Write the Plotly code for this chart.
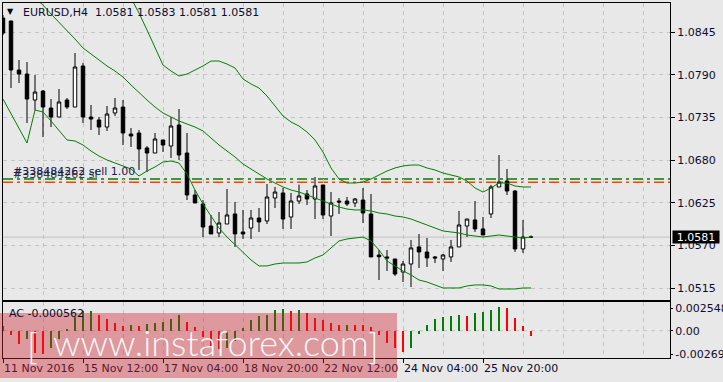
import plotly.graph_objects as go

# ---------------- data ----------------
OPEN = [1.08634, 1.08596, 1.07964, 1.07912, 1.07577, 1.07693, 1.07474, 1.07358, 1.07577, 1.07487,
        1.08016, 1.07358, 1.07320, 1.07229, 1.07410, 1.07487, 1.07139, 1.07152, 1.06959, 1.06894,
        1.07062, 1.06984, 1.07255, 1.06894, 1.06353, 1.06237, 1.05953, 1.05863, 1.05979, 1.06108,
        1.05876, 1.05927, 1.06056, 1.06018, 1.06314, 1.06379, 1.06069, 1.06275, 1.06366, 1.06301,
        1.06482, 1.06082, 1.06275, 1.06275, 1.06250, 1.06288, 1.06108, 1.05579, 1.05554, 1.05528,
        1.05360, 1.05463, 1.05683, 1.05618, 1.05554, 1.05528, 1.05554, 1.05683, 1.05953, 1.06031,
        1.05915, 1.06108, 1.06456, 1.06533, 1.06404, 1.05657, 1.0581]
HIGH = [1.08673, 1.08600, 1.08093, 1.08067, 1.07900, 1.07706, 1.07590, 1.07719, 1.07603, 1.08183,
        1.08054, 1.07513, 1.07358, 1.07500, 1.07603, 1.07577, 1.07216, 1.07191, 1.06984, 1.07152,
        1.07062, 1.07358, 1.07461, 1.07152, 1.06417, 1.06288, 1.06095, 1.06134, 1.06430, 1.06263,
        1.06160, 1.06160, 1.06185, 1.06495, 1.06456, 1.06443, 1.06379, 1.06487, 1.06417, 1.06585,
        1.06482, 1.06391, 1.06314, 1.06327, 1.06314, 1.06443, 1.06366, 1.05644, 1.05644, 1.05528,
        1.05502, 1.05773, 1.05850, 1.05798, 1.05566, 1.05592, 1.05773, 1.06147, 1.06043, 1.06275,
        1.06069, 1.06482, 1.06868, 1.06688, 1.06417, 1.06031, 1.0583]
LOW = [1.08415, 1.07732, 1.07796, 1.07281, 1.07448, 1.07100, 1.07229, 1.07358, 1.07461, 1.07487,
       1.07281, 1.07191, 1.07126, 1.07178, 1.07371, 1.06997, 1.06972, 1.06675, 1.06649, 1.06894,
       1.06907, 1.06830, 1.06804, 1.06288, 1.06250, 1.05811, 1.05850, 1.05811, 1.05979, 1.05683,
       1.05786, 1.05786, 1.05876, 1.05979, 1.06185, 1.05915, 1.05915, 1.06237, 1.06224, 1.06043,
       1.06043, 1.05824, 1.06108, 1.06211, 1.06198, 1.05992, 1.05554, 1.05257, 1.05373, 1.05309,
       1.05231, 1.05167, 1.05412, 1.05425, 1.05476, 1.05373, 1.05489, 1.05683, 1.05811, 1.05876,
       1.05837, 1.06056, 1.06456, 1.06353, 1.05618, 1.05605, 1.0581]
CLOSE = [1.08441, 1.07964, 1.07912, 1.07590, 1.07680, 1.07487, 1.07358, 1.07552, 1.07487, 1.08003,
         1.07358, 1.07332, 1.07229, 1.07397, 1.07474, 1.07152, 1.07113, 1.06946, 1.06894, 1.07075,
         1.06997, 1.07242, 1.06868, 1.06353, 1.06250, 1.05940, 1.05850, 1.05992, 1.06095, 1.05850,
         1.05850, 1.06056, 1.06005, 1.06327, 1.06391, 1.06043, 1.06275, 1.06340, 1.06301, 1.06469,
         1.06095, 1.06250, 1.06263, 1.06237, 1.06301, 1.06121, 1.05554, 1.05557, 1.05541, 1.05334,
         1.05463, 1.05670, 1.05618, 1.05541, 1.05541, 1.05579, 1.05683, 1.05966, 1.06043, 1.05915,
         1.05837, 1.06456, 1.06520, 1.06404, 1.05657, 1.05811, 1.0581]

BB_UPPER_START = 16
BB_UPPER = [1.08892, 1.08699, 1.08480, 1.08248, 1.08028, 1.07951, 1.07887, 1.07912, 1.07964, 1.08016,
            1.08080, 1.08080, 1.08041, 1.07990, 1.07848, 1.07784, 1.07732, 1.07629, 1.07500, 1.07371,
            1.07294, 1.07242, 1.07165, 1.07062, 1.06907, 1.06701, 1.06559, 1.06507, 1.06507, 1.06520,
            1.06559, 1.06611, 1.06662, 1.06701, 1.06727, 1.06739, 1.06739, 1.06701, 1.06675, 1.06636,
            1.06611, 1.06585, 1.06533, 1.06443, 1.06391, 1.06443, 1.06507, 1.06507, 1.06469, 1.06456,
            1.06456]
BB_MID_START = 4
BB_MID = [1.08892, 1.08802, 1.08686, 1.08583, 1.08467, 1.08364, 1.08248, 1.08170, 1.08093, 1.08016,
          1.07951, 1.07874, 1.07771, 1.07668, 1.07577, 1.07487, 1.07410, 1.07358, 1.07307, 1.07268,
          1.07229, 1.07178, 1.07088, 1.06997, 1.06920, 1.06843, 1.06752, 1.06688, 1.06623, 1.06559,
          1.06507, 1.06456, 1.06417, 1.06391, 1.06353, 1.06314, 1.06275, 1.06237, 1.06198, 1.06172,
          1.06160, 1.06160, 1.06147, 1.06121, 1.06108, 1.06082, 1.06069, 1.06043, 1.06005, 1.05966,
          1.05927, 1.05889, 1.05876, 1.05863, 1.05837, 1.05824, 1.05811, 1.05824, 1.05837, 1.05824,
          1.05811, 1.05798, 1.05811]
BB_LOWER = [1.07590, 1.07397, 1.07216, 1.07023, 1.07448, 1.07423, 1.07307, 1.07178, 1.07062, 1.07049,
            1.06997, 1.06920, 1.06855, 1.06804, 1.06765, 1.06727, 1.06688, 1.06598, 1.06662, 1.06714,
            1.06778, 1.06791, 1.06765, 1.06623, 1.06417, 1.06237, 1.06082, 1.05927, 1.05811, 1.05708,
            1.05605, 1.05515, 1.05438, 1.05438, 1.05463, 1.05476, 1.05476, 1.05476, 1.05489, 1.05541,
            1.05579, 1.05670, 1.05760, 1.05786, 1.05798, 1.05811, 1.05760, 1.05644, 1.05502, 1.05438,
            1.05373, 1.05322, 1.05257, 1.05231, 1.05193, 1.05154, 1.05154, 1.05154, 1.05180, 1.05193,
            1.05193, 1.05180, 1.05141, 1.05141, 1.05141, 1.05154, 1.05154]

AC = [0.000575, -0.000495, -0.00153, -0.00096, -0.00261, -0.00263, -0.00199, -0.00096, 0.00020, 0.00153,
      0.00222, 0.00225, 0.00184, 0.00134, 0.00084, 0.00058, 0.00060, 0.00057, 0.00077, 0.00084,
      0.00096, 0.00134, 0.00184, 0.00104, 0.00046, -0.00077, -0.00192, -0.00210, -0.00195, -0.00115,
      0.00031, 0.00123, 0.00173, 0.00184, 0.00242, 0.00244, 0.00230, 0.00242, 0.00199, 0.00146,
      0.00123, 0.00088, 0.00060, 0.00065, 0.00064, 0.00063, 0.00046, -0.00050, -0.00138, -0.00196,
      -0.00242, -0.00196, -0.00038, 0.00066, 0.00130, 0.00161, 0.00169, 0.00180, 0.00169, 0.00199,
      0.00215, 0.00238, 0.00276, 0.00264, 0.00141, 0.00054, -0.000562]

DATE_TICK_IDX = [0, 10, 20, 30, 40, 50, 60]
DATE_TICK_TEXT = ["11 Nov 2016", "15 Nov 12:00", "17 Nov 04:00", "18 Nov 20:00",
                  "22 Nov 12:00", "24 Nov 04:00", "25 Nov 20:00"]
PRICE_TICKS = [1.0515, 1.0570, 1.0625, 1.0680, 1.0735, 1.0790, 1.0845]
AC_TICKS = [0.002548, 0.0, -0.00269]
AC_TICK_TEXT = ["0.002548", "0.00", "-0.00269"]

SYMBOL = "EURUSD,H4"
BAR_OHLC_TEXT = "1.0581 1.0583 1.0581 1.0581"
BID = 1.0581
ORDER_LEVEL_GREEN = 1.06559
ORDER_LEVEL_RED = 1.06517
ORDER_LABEL = "#338484262 sell 1.00"
ORDER_LABEL2 = "#338484262 sl"
AC_LABEL = "AC -0.000562"
WATERMARK = "www.instaforex.com"

PRICE_RANGE = [1.04999, 1.08828]
AC_RANGE = [-0.00314, 0.00330]
X_RANGE = [0, 83.375]

# ---------------- layout geometry (pixels) ----------------
W, H = 723, 382
PX_L, PX_R, PX_T, PX_B = 3, 670, 3, 358


def px_x(px):
    return (px - PX_L) / (PX_R - PX_L)


def px_y(py):
    return (PX_B - py) / (PX_B - PX_T)


BG = "#e8e8e8"
GRID = "#c4c4c4"
TXT = "#0c0c30"
FONT = "DejaVu Sans"
GREEN = "#008000"

n = len(CLOSE)
xs = list(range(n))

fig = go.Figure()

# Bollinger bands
for start, vals in ((BB_UPPER_START, BB_UPPER), (BB_MID_START, BB_MID), (0, BB_LOWER)):
    fig.add_trace(go.Scatter(x=list(range(start, start + len(vals))), y=vals, mode="lines",
                             line=dict(color=GREEN, width=1), xaxis="x", yaxis="y",
                             hoverinfo="skip"))

# candles
fig.add_trace(go.Candlestick(
    x=xs, open=OPEN, high=HIGH, low=LOW, close=CLOSE, xaxis="x", yaxis="y",
    increasing=dict(line=dict(color="black", width=1), fillcolor="white"),
    decreasing=dict(line=dict(color="black", width=1), fillcolor="black"),
    whiskerwidth=0,
))

# AC histogram
ac_colors = []
for i, v in enumerate(AC):
    if i == 0:
        ac_colors.append("#ff0000")
    else:
        ac_colors.append("#008000" if v > AC[i - 1] else "#ff0000")
fig.add_trace(go.Bar(x=xs, y=AC, width=0.125, offset=-0.0625,
                     marker=dict(color=ac_colors, line=dict(width=0)),
                     xaxis="x2", yaxis="y2", hoverinfo="skip"))

grid_common = dict(showgrid=True, gridcolor=GRID, griddash="4px,4px", gridwidth=1)

fig.update_layout(
    width=W, height=H,
    margin=dict(l=PX_L, r=W - PX_R, t=PX_T, b=H - PX_B, autoexpand=False),
    paper_bgcolor=BG, plot_bgcolor=BG,
    showlegend=False,
    boxgap=0.38,
    bargap=0,
    font=dict(family=FONT, size=11, color=TXT),
    xaxis=dict(domain=[0, 1], anchor="y", range=X_RANGE, tickmode="array",
               tickvals=DATE_TICK_IDX, ticktext=[""] * len(DATE_TICK_IDX), ticks="",
               showline=True, linecolor="black", linewidth=1, mirror=True, automargin=False,
               rangeslider=dict(visible=False), zeroline=False,
               minor=dict(dtick=5, tick0=0, showgrid=True, gridcolor=GRID, griddash="4px,4px"),
               **grid_common),
    yaxis=dict(domain=[px_y(300), 1], anchor="x", side="right", range=PRICE_RANGE,
               tickmode="array", tickvals=PRICE_TICKS, ticktext=[f"{v:.4f}" for v in PRICE_TICKS],
               ticks="outside", ticklen=4, tickcolor="black", automargin=False,
               showline=True, linecolor="black", linewidth=1, mirror=True, zeroline=False,
               tickfont=dict(family=FONT, size=11, color=TXT),
               **grid_common),
    xaxis2=dict(domain=[0, 1], anchor="y2", matches="x", range=X_RANGE, tickmode="array",
                tickvals=DATE_TICK_IDX, ticktext=DATE_TICK_TEXT, ticks="outside", ticklen=4,
                tickcolor="black", ticklabelposition="outside right", tickangle=0,
                automargin=False,
                showline=True, linecolor="black", linewidth=1, mirror=True, zeroline=False,
                tickfont=dict(family=FONT, size=11, color=TXT),
                minor=dict(dtick=5, tick0=0, showgrid=True, gridcolor=GRID, griddash="4px,4px"),
                **grid_common),
    yaxis2=dict(domain=[0, px_y(302)], anchor="x2", side="right", range=AC_RANGE,
                tickmode="array", tickvals=AC_TICKS, ticktext=AC_TICK_TEXT, automargin=False,
                ticks="outside", ticklen=2, tickcolor="black", showgrid=False, zeroline=False,
                showline=True, linecolor="black", linewidth=1, mirror=True, ticklabelstandoff=0,
                tickfont=dict(family=FONT, size=11, color=TXT)),
)

shapes = [
    # zero line of AC
    dict(type="line", xref="x2 domain", yref="y2", x0=0, x1=1, y0=0, y1=0,
         line=dict(color=GRID, width=1, dash="4px,4px"), layer="below"),
    # bid line
    dict(type="line", xref="x domain", yref="y", x0=0, x1=1, y0=BID, y1=BID,
         line=dict(color="#c0c0c0", width=1), layer="below"),
    # order lines
    dict(type="line", xref="x domain", yref="y", x0=0, x1=1, y0=ORDER_LEVEL_GREEN, y1=ORDER_LEVEL_GREEN,
         line=dict(color=GREEN, width=1.3, dash="10px,4px,3px,4px"), layer="below"),
    dict(type="line", xref="x domain", yref="y", x0=0, x1=1, y0=ORDER_LEVEL_RED, y1=ORDER_LEVEL_RED,
         line=dict(color="#ff4000", width=1.3, dash="10px,4px,3px,4px"), layer="below"),
    # watermark band
    dict(type="rect", xref="paper", yref="paper", x0=px_x(0), x1=px_x(397), y0=px_y(378), y1=px_y(313),
         fillcolor="rgba(205,35,45,0.40)", line=dict(width=0), layer="above"),
]
fig.update_layout(shapes=shapes)

WM_FONT = dict(family="Lato", size=36, weight=300, color="rgba(255,255,255,0.95)")
ann = [
    dict(text="▼", x=px_x(5), y=px_y(12), xanchor="left", yanchor="middle",
         font=dict(size=8, color="black")),
    dict(text=SYMBOL + "\u00a0\u00a0" + BAR_OHLC_TEXT, x=px_x(21), y=px_y(13),
         xanchor="left", yanchor="middle", font=dict(size=11, color=TXT)),
    dict(text=ORDER_LABEL2, x=px_x(11), y=px_y(174), xanchor="left", yanchor="middle",
         font=dict(size=11, color="#3a3a3a")),
    dict(text=ORDER_LABEL, x=px_x(11), y=px_y(171), xanchor="left", yanchor="middle",
         font=dict(size=11, color="#1a1a50")),
    dict(text=AC_LABEL, x=px_x(7), y=px_y(313), xanchor="left", yanchor="middle",
         font=dict(size=11, color=TXT)),
    dict(text=f"{BID:.4f}", x=px_x(672), y=BID, yref="y", xanchor="left", yanchor="middle",
         font=dict(size=11, color="white"), bgcolor="black", width=44, height=10, borderpad=1,
         align="center"),
    # watermark text
    dict(text="[", x=px_x(25), y=px_y(345), xanchor="left", yanchor="middle", font=WM_FONT),
    dict(text=WATERMARK, x=px_x(51), y=px_y(342), xanchor="left", yanchor="middle", font=WM_FONT),
    dict(text="]", x=px_x(366), y=px_y(345), xanchor="left", yanchor="middle", font=WM_FONT),
]
for a in ann:
    a.setdefault("xref", "paper")
    a.setdefault("yref", "paper")
    a["showarrow"] = False
fig.update_layout(annotations=ann)

fig.write_html("out.html")
